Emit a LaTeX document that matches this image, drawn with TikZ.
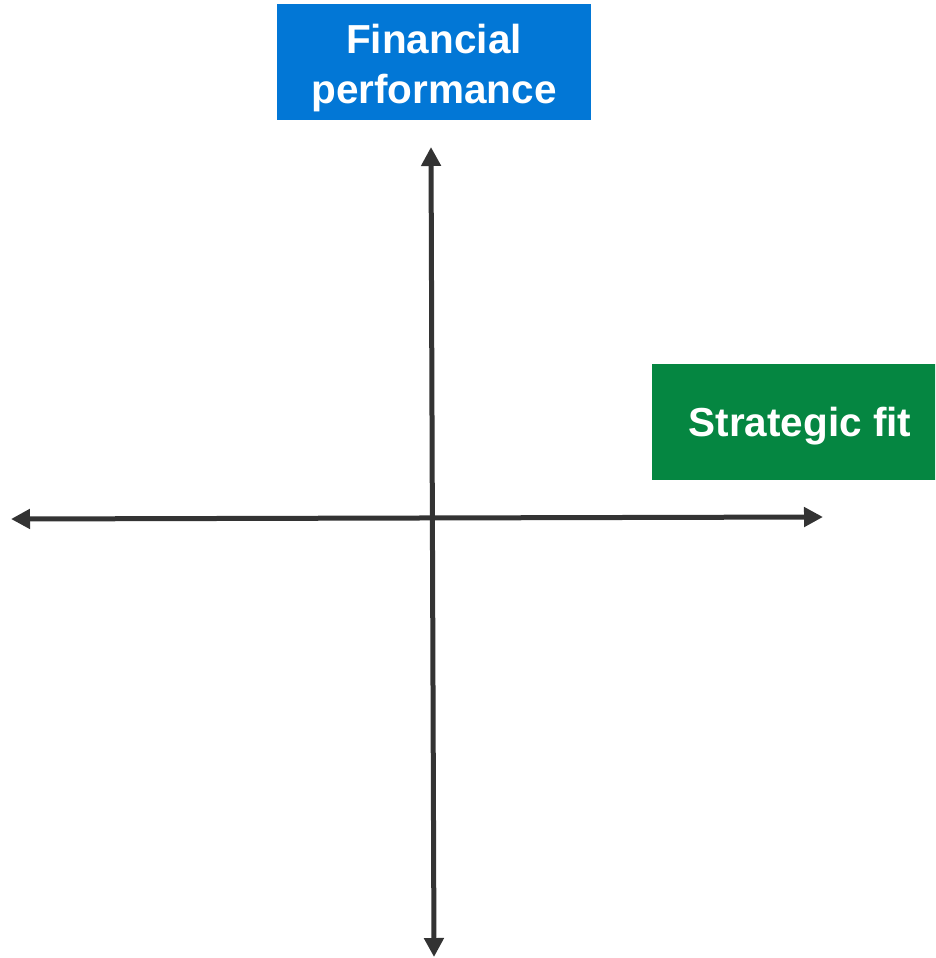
\documentclass[tikz,border=0pt]{standalone}
\usepackage{fontspec}
\setmainfont{Liberation Sans}
\usetikzlibrary{arrows.meta}
\definecolor{fpblue}{HTML}{0277D6}
\definecolor{sfgreen}{HTML}{058641}
\definecolor{axisgray}{HTML}{333333}
\begin{document}
\begin{tikzpicture}[x=1pt,y=-1pt,
  label box/.style={inner sep=0pt, text=white, font=\fontsize{40.5}{50}\selectfont\bfseries, align=center},
  axis/.style={draw=axisgray, line width=5pt, {Triangle[length=19pt,width=19pt]}-{Triangle[length=19pt,width=19pt]}}]
\clip (0,0) rectangle (935,958);
\fill[white] (0,0) rectangle (935,958);
\node[label box, fill=fpblue, minimum width=314pt, minimum height=116pt, text height=90.5pt, text depth=8.5pt] (fin) at (434,62) {Financial\\performance};
\node[label box, fill=sfgreen, minimum width=296pt, minimum height=116pt, text height=29.5pt, text depth=0pt] (strat) at (800,422) {Strategic fit};
\coordinate (top) at (431,147);
\coordinate (bottom) at (434,957);
\coordinate (left) at (11,519);
\coordinate (right) at (823,517);
\draw[axis] (bottom) -- (top);
\draw[axis] (left) -- (right);
\end{tikzpicture}
\end{document}
